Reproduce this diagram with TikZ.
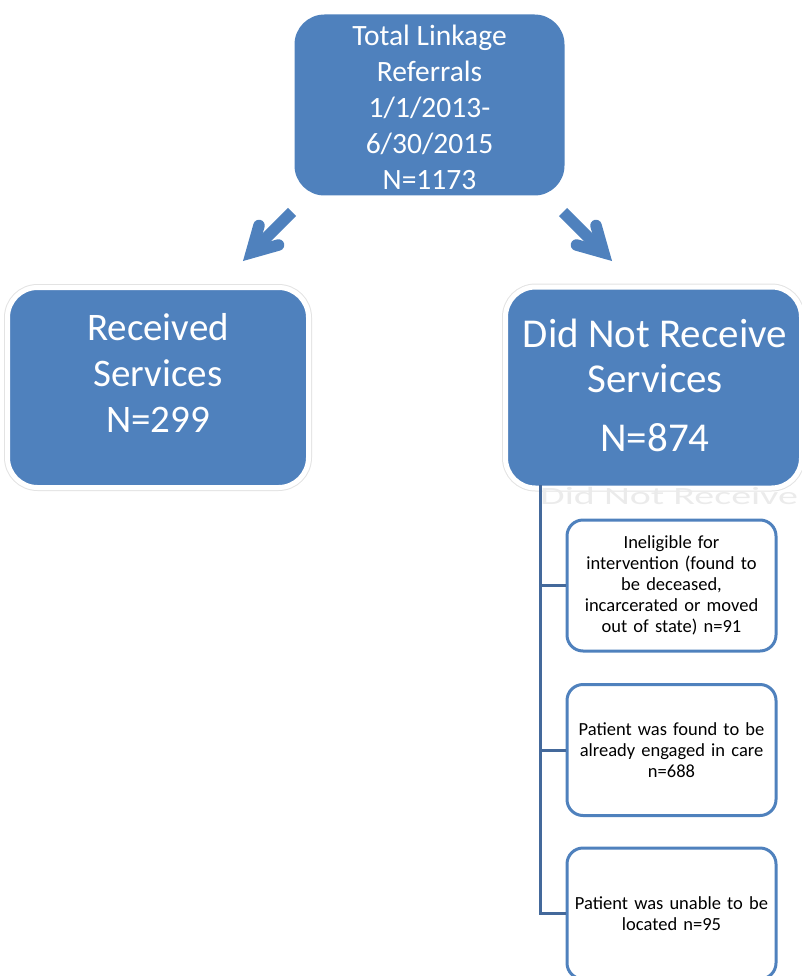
\documentclass[tikz,border=0pt]{standalone}
\usepackage{fontspec}
\setmainfont{Carlito}
\definecolor{boxblue}{HTML}{4F81BD}
\definecolor{linkblue}{HTML}{44699B}
\definecolor{glowgray}{HTML}{E3E3E3}
\definecolor{ghostgray}{HTML}{EBEBEB}

\tikzset{
  topbox/.style={fill=boxblue, rounded corners=30pt, minimum width=270pt,
    minimum height=181pt, inner sep=0pt},
  bigbox/.style={fill=boxblue, rounded corners=30pt, inner sep=0pt,
    draw=white, line width=5pt,
    preaction={draw=glowgray, line width=7pt}},
  bigtext/.style={text=white, align=center, inner sep=0pt,
    font=\fontsize{39}{46}\selectfont},
  smallbox/.style={draw=boxblue, line width=3pt, fill=white,
    rounded corners=16pt, minimum width=209pt, minimum height=131pt,
    inner sep=0pt, align=center, text width=200pt,
    font=\fontsize{18.5}{21}\selectfont},
  shaft/.style={draw=boxblue, line width=11.5pt, line cap=butt},
  barb/.style={draw=boxblue, line width=11.5pt, line cap=round, line join=miter},
  treeline/.style={draw=linkblue, line width=3pt},
}

\begin{document}
\begin{tikzpicture}[x=1pt, y=-1pt]
  \useasboundingbox (0,0) rectangle (802,976);

  % top box
  \node[topbox] (total) at (429.5,105) {};
  \node[text=white, align=center, inner sep=0pt,
        font=\fontsize{29.5}{36}\selectfont] (totaltext) at (429.5,107)
    {Total Linkage\\Referrals\\1/1/2013-\\6/30/2015\\N=1173};

  % two outcome boxes
  \node[bigbox, minimum width=301pt, minimum height=200pt] (recv) at (158,387.5) {};
  \node[bigtext] (recvtext) at (158,373) {Received\\Services\\N=299};

  \node[bigbox, minimum width=296pt, minimum height=201pt] (notrecv) at (653.5,387.5) {};
  \node[bigtext, font=\fontsize{41}{45}\selectfont] (notrecvtext) at (655,356)
    {Did Not Receive\\Services};
  \node[text=white, inner sep=0pt, font=\fontsize{41}{45}\selectfont]
    (notrecvn) at (655,438) {N=874};

  % faint echo of the heading under the right box
  \node[text=ghostgray, inner sep=0pt, font=\fontsize{40}{40}\selectfont,
        yscale=0.62, anchor=west] (ghost) at (540,496) {Did Not Receive};

  % block arrows
  \coordinate (lTail) at (292,212);
  \coordinate (lVert) at (251.3,252.7);
  \coordinate (lUp) at (259,225.5);
  \coordinate (lLow) at (278.5,245);
  \draw[shaft] (lTail) -- (lVert);
  \draw[barb] (lUp) -- (lVert) -- (lLow);

  \coordinate (rTail) at (563,212);
  \coordinate (rVert) at (603.7,252.7);
  \coordinate (rUp) at (596,225.5);
  \coordinate (rLow) at (576.5,245);
  \draw[shaft] (rTail) -- (rVert);
  \draw[barb] (rUp) -- (rVert) -- (rLow);

  % reasons for not receiving services
  \node[smallbox] (inelig) at (671.5,585.5)
    {Ineligible for\\intervention (found to\\be deceased,\\incarcerated or moved\\out of state) n=91};
  \node[smallbox] (engaged) at (671.5,750)
    {Patient was found to be\\already engaged in care\\n=688};
  \node[smallbox] (unlocated) at (671.5,913.5)
    {Patient was unable to be\\located n=95};

  % tree connector
  \coordinate (trunk) at (540,485);
  \draw[treeline] (trunk) |- (unlocated.west);
  \draw[treeline] (trunk |- inelig.west) -- (inelig.west);
  \draw[treeline] (trunk |- engaged.west) -- (engaged.west);
\end{tikzpicture}
\end{document}
